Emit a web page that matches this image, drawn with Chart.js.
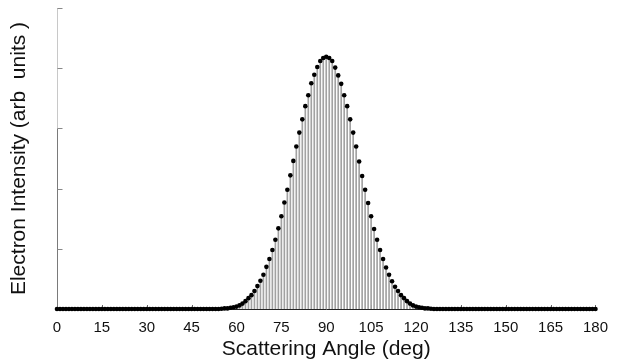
<!DOCTYPE html>
<html lang="en">
<head>
  <meta charset="UTF-8" />
  <title>Electron Intensity vs Scattering Angle</title>
  <script src="https://cdn.jsdelivr.net/npm/chart.js"></script>
  <style>
    body {
      margin: 0;
      background: #fff;
    }

    .wrap {
      width: 618px;
      height: 362px;
    }
  </style>
</head>
<body>
  <div class="wrap">
    <canvas id="scatterChart"></canvas>
  </div>

  <script>
    // scattering angle in degrees, one sample per degree
    const angles = Array.from({ length: 181 }, (_, i) => i);

    // measured intensity (arb units), 0..180 deg
    const intensity = [
      0, 0, 0, 0, 0, 0, 0, 0, 0, 0,
      0, 0, 0, 0, 0, 0, 0, 0, 0, 0,
      0, 0, 0, 0, 0, 0, 0, 0, 0, 0,
      0, 0, 0, 0, 0, 0, 0, 0, 0, 0,
      0, 0, 0, 0, 0, 0, 0, 0, 0, 0,
      0, 0, 0, 0, 0, 0.005, 0.01, 0.01, 0.02, 0.03,
      0.04, 0.06, 0.09, 0.13, 0.18, 0.23, 0.30, 0.38, 0.47, 0.57,
      0.70, 0.83, 0.98, 1.15, 1.34, 1.54, 1.77, 1.98, 2.22, 2.46,
      2.70, 2.93, 3.15, 3.37, 3.55, 3.75, 3.89, 4.02, 4.12, 4.17,
      4.19, 4.17, 4.12, 4.01, 3.88, 3.74, 3.55, 3.37, 3.15, 2.93,
      2.70, 2.45, 2.21, 1.98, 1.76, 1.54, 1.33, 1.15, 0.98, 0.83,
      0.69, 0.57, 0.46, 0.37, 0.30, 0.23, 0.18, 0.13, 0.09, 0.06,
      0.04, 0.03, 0.02, 0.01, 0.01, 0.005, 0, 0, 0, 0,
      0, 0, 0, 0, 0, 0, 0, 0, 0, 0,
      0, 0, 0, 0, 0, 0, 0, 0, 0, 0,
      0, 0, 0, 0, 0, 0, 0, 0, 0, 0,
      0, 0, 0, 0, 0, 0, 0, 0, 0, 0,
      0, 0, 0, 0, 0, 0, 0, 0, 0, 0,
      0
    ];

    const xTickStep = 15;
    const yTickStep = 1;

    const points = angles.map((a, i) => ({ x: a, y: intensity[i] }));

    const FONT = "'Liberation Sans', Arial, Helvetica, sans-serif";

    // y axis line plus inward tick marks on both axes
    const axisMarks = {
      id: 'axisMarks',
      beforeDatasetsDraw(chart) {
        const { ctx, scales: { x, y } } = chart;
        const x0 = Math.round(x.getPixelForValue(0)) + 0.5;
        const yBase = y.getPixelForValue(0);
        ctx.save();
        ctx.lineWidth = 1;

        // lower part of the y axis is solid, upper part fainter
        ctx.strokeStyle = '#7a7a7a';
        ctx.beginPath();
        ctx.moveTo(x0, yBase);
        ctx.lineTo(x0, y.getPixelForValue(3));
        ctx.stroke();
        ctx.strokeStyle = '#c8c8c8';
        ctx.beginPath();
        ctx.moveTo(x0, y.getPixelForValue(3));
        ctx.lineTo(x0, y.getPixelForValue(5));
        ctx.stroke();

        ctx.strokeStyle = '#888';
        y.ticks.forEach(t => {
          if (t.value === 0) return;
          const py = Math.round(y.getPixelForValue(t.value)) + 0.5;
          ctx.beginPath();
          ctx.moveTo(x0, py);
          ctx.lineTo(x0 + 5, py);
          ctx.stroke();
        });

        ctx.strokeStyle = '#666';
        x.ticks.forEach(t => {
          if (t.value === 0) return;
          const px = Math.round(x.getPixelForValue(t.value)) + 0.5;
          ctx.beginPath();
          ctx.moveTo(px, yBase);
          ctx.lineTo(px, yBase - 4);
          ctx.stroke();
        });
        ctx.restore();
      }
    };

    const ctx = document.getElementById('scatterChart').getContext('2d');

    new Chart(ctx, {
      type: 'bar',
      data: {
        datasets: [
          {
            // drop lines from each sample to the baseline
            type: 'bar',
            data: points,
            backgroundColor: '#a2a2a2',
            barThickness: 1,
            borderWidth: 0,
            order: 2
          },
          {
            type: 'line',
            data: points,
            showLine: false,
            pointRadius: 2.3,
            pointHoverRadius: 2.3,
            pointBackgroundColor: '#000',
            pointBorderWidth: 0,
            clip: false,
            order: 1
          }
        ]
      },
      options: {
        responsive: true,
        maintainAspectRatio: false,
        animation: false,
        layout: {
          padding: { top: 8, right: 21, bottom: 0, left: 0 }
        },
        plugins: {
          legend: { display: false },
          tooltip: { enabled: false }
        },
        scales: {
          x: {
            type: 'linear',
            min: 0,
            max: 180,
            offset: false,
            grid: { display: false, offset: false, drawTicks: false },
            border: { display: true, color: '#222', width: 1 },
            ticks: {
              stepSize: xTickStep,
              padding: 10,
              maxRotation: 0,
              color: '#111',
              font: { family: FONT, size: 15 }
            },
            title: {
              display: true,
              text: 'Scattering Angle (deg)',
              color: '#111',
              padding: { top: 0, bottom: 0 },
              font: { family: FONT, size: 21 }
            },
            afterFit(scale) { scale.height = 53; }
          },
          y: {
            min: 0,
            max: 5,
            grid: { display: false, drawTicks: false },
            border: { display: false },
            ticks: { stepSize: yTickStep, display: false },
            title: {
              display: true,
              text: 'Electron Intensity (arb  units )',
              color: '#111',
              padding: { top: 7, bottom: 0 },
              font: { family: FONT, size: 21 }
            },
            afterFit(scale) { scale.width = 57; }
          }
        }
      },
      plugins: [axisMarks]
    });
  </script>
</body>
</html>
